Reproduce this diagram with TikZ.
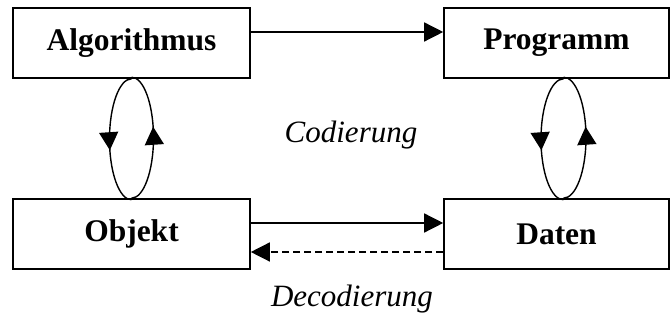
\documentclass[tikz,border=0pt]{standalone}
\usepackage{fontspec}
\setmainfont{Liberation Serif}
\usetikzlibrary{arrows.meta,decorations.markings}
\begin{document}
\begin{tikzpicture}[x=1pt,y=1pt,
  box/.style={draw,line width=1.6pt,minimum height=70pt,inner sep=0pt,
    font=\fontsize{31.5}{36}\selectfont\bfseries},
  conn/.style={line width=1.4pt,-{Triangle[length=19pt,width=19pt]}},
  lbl/.style={font=\fontsize{31}{36}\selectfont\itshape,anchor=base,inner sep=0pt},
  looparrow/.style={line width=1.4pt,decoration={markings,
    mark=at position #1 with {\arrow{Triangle[length=18pt,width=19pt]}}},postaction={decorate}}
]
\useasboundingbox (0,0) rectangle (671,320);
\node[box,minimum width=237pt] (alg) at (131.5,277) {Algorithmus};
\node[box,minimum width=225pt] (prog) at (556.5,277) {Programm};
\node[box,minimum width=237pt] (obj) at (131.5,86) {Objekt};
\node[box,minimum width=225pt] (dat) at (556.5,86) {Daten};
\draw[conn] ([yshift=11pt]alg.east) -- ([yshift=11pt]prog.west);
\draw[conn] ([yshift=11pt]obj.east) -- ([yshift=11pt]dat.west);
\draw[conn,dashed,dash pattern=on 7pt off 4pt] ([yshift=-18pt]dat.west) -- ([yshift=-18pt]obj.east);
% loops
\draw[looparrow=0.58] (alg.south) arc[start angle=90,end angle=270,x radius=22,y radius=60.5];
\draw[looparrow=0.58] (obj.north) arc[start angle=-90,end angle=90,x radius=22,y radius=60.5];
\draw[looparrow=0.58] ([xshift=7pt]prog.south) arc[start angle=90,end angle=270,x radius=22.5,y radius=60.5];
\draw[looparrow=0.58] ([xshift=7pt]dat.north) arc[start angle=-90,end angle=90,x radius=22.5,y radius=60.5];
\node[lbl] (cod) at (351,177) {Codierung};
\node[lbl] (dec) at (352,13) {Decodierung};
\end{tikzpicture}
\end{document}
